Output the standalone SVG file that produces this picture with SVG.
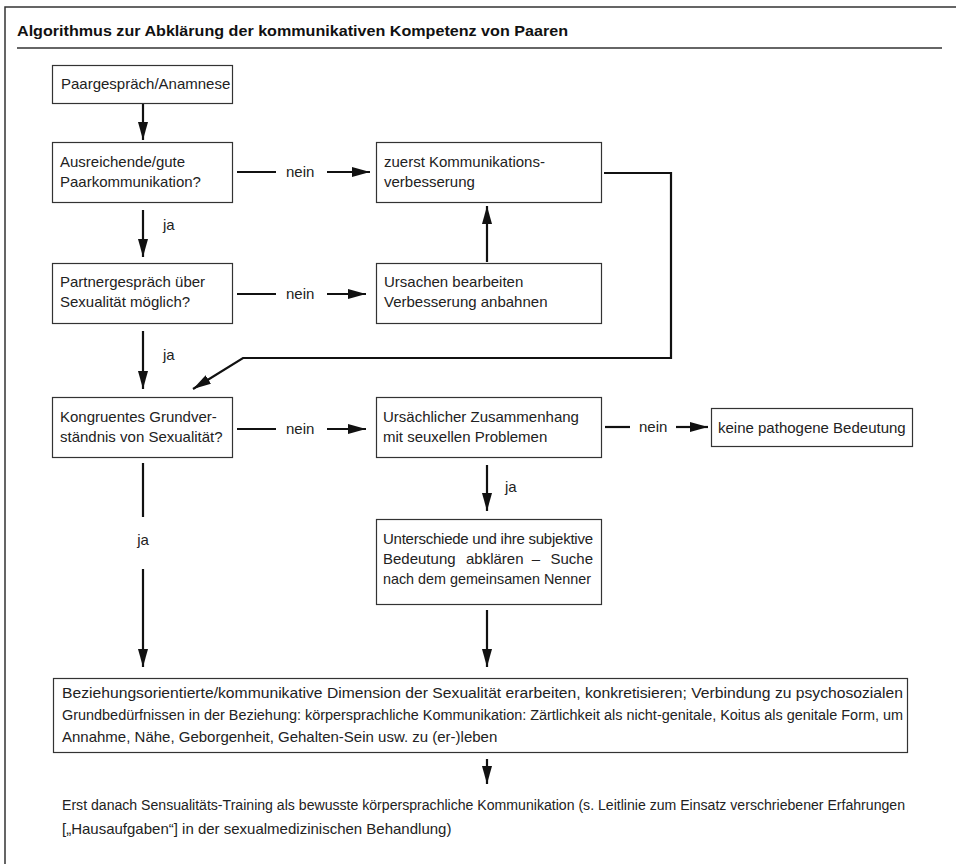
<svg xmlns="http://www.w3.org/2000/svg" width="956" height="864" viewBox="0 0 956 864">
<defs>
<marker id="ah" markerUnits="userSpaceOnUse" markerWidth="18" markerHeight="10" refX="18" refY="5" orient="auto">
<path d="M0,0 L18,5 L0,10 z" fill="#111"/>
</marker>
<style>
.box{fill:#fff;stroke:#333;stroke-width:1.2}
.t{font-family:"Liberation Sans",Arial,sans-serif;font-size:15px;fill:#222}
.s{font-size:14px}
.c{fill:none;stroke:#111;stroke-width:2.2}
.a{fill:none;stroke:#111;stroke-width:2.2;marker-end:url(#ah)}
</style>
</defs>
<rect width="956" height="864" fill="#fff"/>
<g id="frame">
<path d="M5,864 V7 H956" fill="none" stroke="#333" stroke-width="1.5"/>
<line x1="17" y1="48" x2="942" y2="48" stroke="#666" stroke-width="1.8"/>
<text x="17" y="36" font-family="'Liberation Sans',Arial,sans-serif" font-size="15" font-weight="bold" fill="#111" textLength="551" lengthAdjust="spacingAndGlyphs">Algorithmus zur Abklärung der kommunikativen Kompetenz von Paaren</text>
</g>
<g id="connectors">
<line class="a" x1="143" y1="103" x2="143" y2="140"/>
<line class="a" x1="143" y1="210" x2="143" y2="257"/>
<line class="a" x1="143" y1="331" x2="143" y2="389"/>
<line class="c" x1="143" y1="463" x2="143" y2="517"/>
<line class="a" x1="143" y1="569" x2="143" y2="667"/>
<line class="c" x1="237" y1="172" x2="276" y2="172"/>
<line class="a" x1="327" y1="172" x2="370" y2="172"/>
<line class="c" x1="237" y1="294" x2="276" y2="294"/>
<line class="a" x1="327" y1="294" x2="366" y2="294"/>
<line class="c" x1="237" y1="429" x2="276" y2="429"/>
<line class="a" x1="327" y1="429" x2="366" y2="429"/>
<line class="a" x1="487" y1="262" x2="487" y2="206"/>
<path class="a" d="M604,173 H671 V358 H243 L193,389"/>
<line class="c" x1="605" y1="427" x2="630" y2="427"/>
<line class="a" x1="676" y1="427" x2="708" y2="427"/>
<line class="a" x1="487" y1="465" x2="487" y2="511"/>
<line class="a" x1="487" y1="610" x2="487" y2="667"/>
<line class="a" x1="487" y1="759" x2="487" y2="784"/>
<text class="t" x="286" y="177">nein</text>
<text class="t" x="286" y="299">nein</text>
<text class="t" x="286" y="434">nein</text>
<text class="t" x="639" y="432">nein</text>
<text class="t" x="163" y="230">ja</text>
<text class="t" x="163" y="360">ja</text>
<text class="t" x="143" y="545" text-anchor="middle">ja</text>
<text class="t" x="505" y="492">ja</text>
</g>
<g id="n1">
<rect class="box" x="52.5" y="65.5" width="180" height="38"/>
<text class="t" x="61" y="89">Paargespräch/Anamnese</text>
</g>
<g id="n2">
<rect class="box" x="52.5" y="142.5" width="180" height="60"/>
<text class="t" x="60" y="167">Ausreichende/gute</text>
<text class="t" x="60" y="187">Paarkommunikation?</text>
</g>
<g id="n3">
<rect class="box" x="376.5" y="142.5" width="225" height="60"/>
<text class="t" x="384" y="167">zuerst Kommunikations-</text>
<text class="t" x="384" y="187">verbesserung</text>
</g>
<g id="n4">
<rect class="box" x="52.5" y="263.5" width="180" height="60"/>
<text class="t" x="60" y="287">Partnergespräch über</text>
<text class="t" x="60" y="307">Sexualität möglich?</text>
</g>
<g id="n5">
<rect class="box" x="376.5" y="263.5" width="225" height="60"/>
<text class="t" x="384" y="287">Ursachen bearbeiten</text>
<text class="t" x="384" y="307">Verbesserung anbahnen</text>
</g>
<g id="n6">
<rect class="box" x="52.5" y="397.5" width="180" height="60"/>
<text class="t" x="60" y="422">Kongruentes Grundver-</text>
<text class="t" x="60" y="442">ständnis von Sexualität?</text>
</g>
<g id="n7">
<rect class="box" x="376.5" y="397.5" width="225" height="60"/>
<text class="t" x="383" y="422">Ursächlicher Zusammenhang</text>
<text class="t" x="383" y="442">mit seuxellen Problemen</text>
</g>
<g id="n8">
<rect class="box" x="711.5" y="408.5" width="201" height="38"/>
<text class="t" x="718" y="433">keine pathogene Bedeutung</text>
</g>
<g id="n9">
<rect class="box" x="376.5" y="519.5" width="225" height="85"/>
<text class="t" x="383" y="544" textLength="210" lengthAdjust="spacing">Unterschiede und ihre subjektive</text>
<text class="t" x="383" y="564">Bedeutung</text>
<text class="t" x="466" y="564">abklären</text>
<text class="t" x="536" y="564" text-anchor="middle">–</text>
<text class="t" x="593" y="564" text-anchor="end">Suche</text>
<text class="t" x="383" y="584" textLength="208" lengthAdjust="spacingAndGlyphs">nach dem gemeinsamen Nenner</text>
</g>
<g id="n10">
<rect class="box" x="53.5" y="678.5" width="854" height="74"/>
<text class="t" x="62" y="698" textLength="841" lengthAdjust="spacingAndGlyphs">Beziehungsorientierte/kommunikative Dimension der Sexualität erarbeiten, konkretisieren; Verbindung zu psychosozialen</text>
<text class="t s" x="62" y="720" textLength="841" lengthAdjust="spacingAndGlyphs">Grundbedürfnissen in der Beziehung: körpersprachliche Kommunikation: Zärtlichkeit als nicht-genitale, Koitus als genitale Form, um</text>
<text class="t" x="62" y="742">Annahme, Nähe, Geborgenheit, Gehalten-Sein usw. zu (er-)leben</text>
</g>
<g id="n11">
<text class="t s" x="62" y="810" textLength="843" lengthAdjust="spacingAndGlyphs">Erst danach Sensualitäts-Training als bewusste körpersprachliche Kommunikation (s. Leitlinie zum Einsatz verschriebener Erfahrungen</text>
<text class="t" x="62" y="834">[„Hausaufgaben“] in der sexualmedizinischen Behandlung)</text>
</g>
</svg>
